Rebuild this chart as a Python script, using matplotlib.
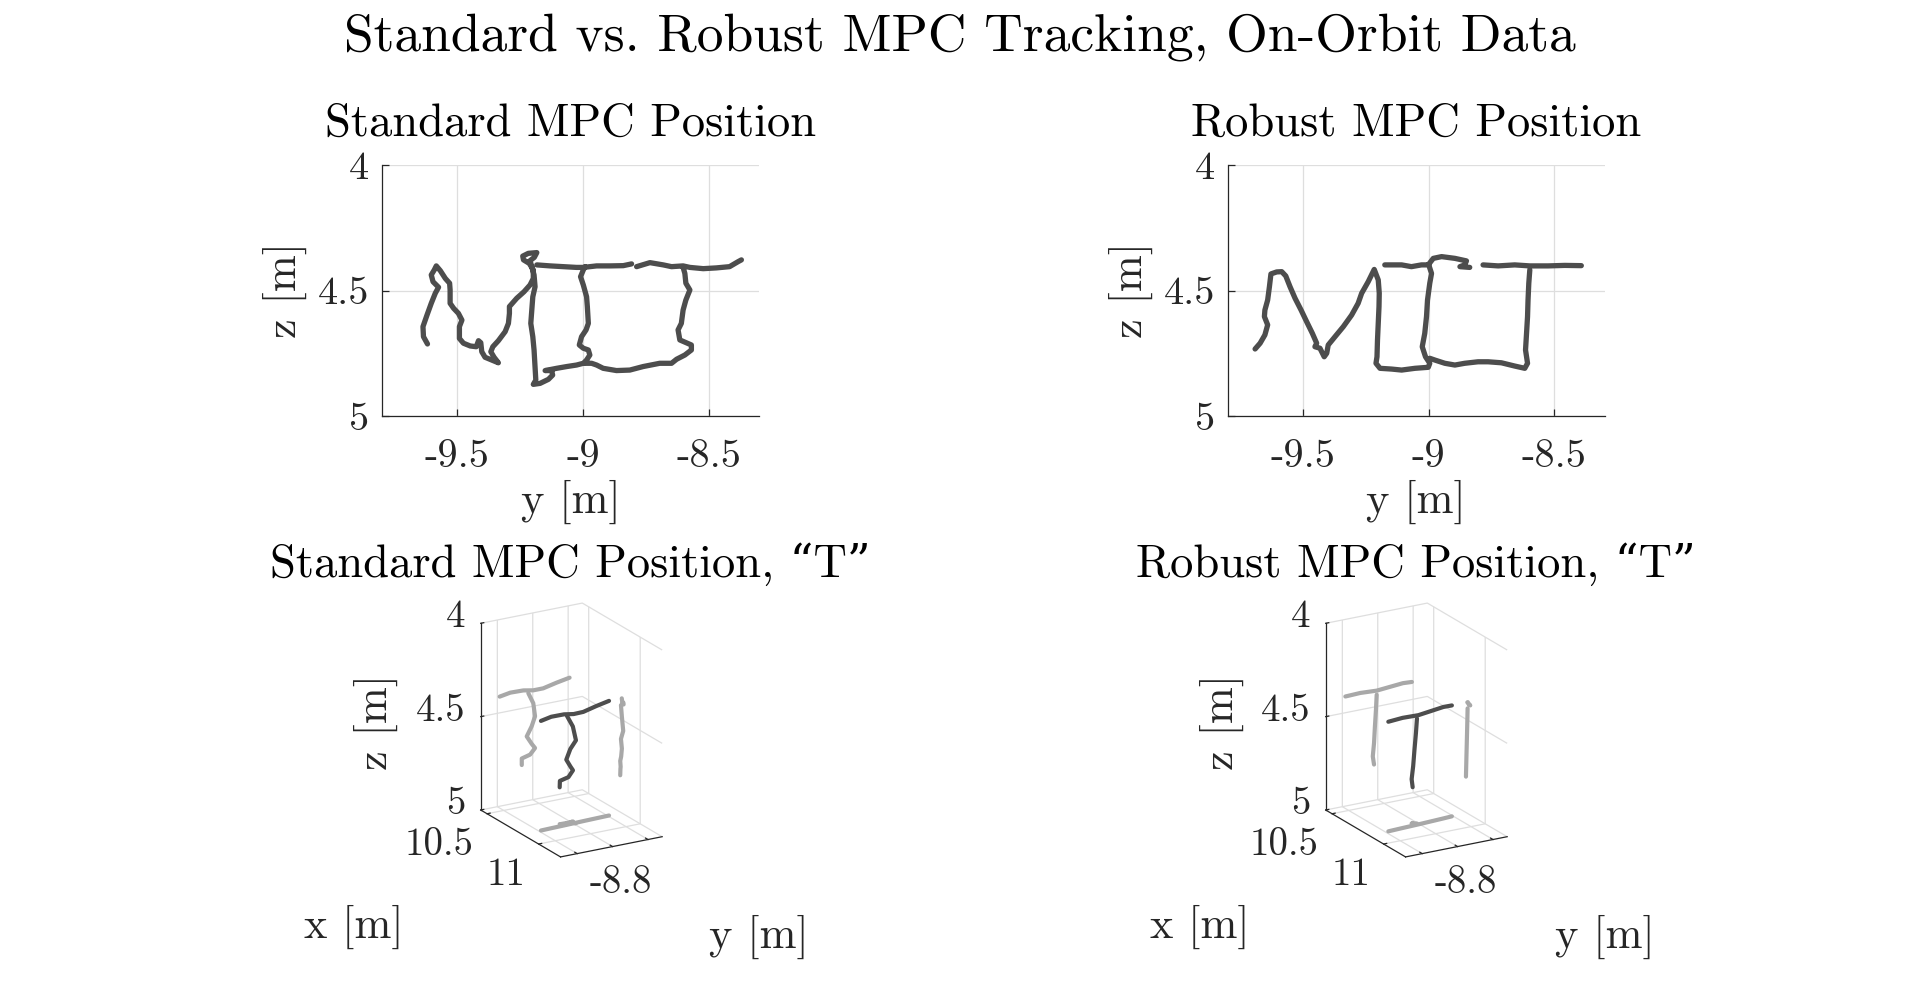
import numpy as np
import matplotlib
matplotlib.use('Agg')
import matplotlib.pyplot as plt
from mpl_toolkits.mplot3d import proj3d

plt.rcParams['font.family'] = ['cmr10', 'DejaVu Serif']
plt.rcParams['axes.unicode_minus'] = False
plt.rcParams['mathtext.fontset'] = 'cm'

# ---------------- data: top-down (y, z) trajectories ----------------
std_m_y = [-9.619, -9.635, -9.637, -9.621, -9.604, -9.588, -9.575, -9.597, -9.604, -9.592,
           -9.584, -9.568, -9.548, -9.531, -9.529, -9.529, -9.515, -9.496, -9.482, -9.492,
           -9.492, -9.476, -9.449, -9.425, -9.416, -9.407, -9.403, -9.390, -9.363, -9.337,
           -9.354, -9.367, -9.359, -9.337, -9.310, -9.297, -9.293, -9.293, -9.264, -9.235,
           -9.211, -9.198, -9.198, -9.214, -9.237, -9.240, -9.218, -9.184, -9.194, -9.211,
           -9.204, -9.195, -9.191, -9.200, -9.204, -9.208, -9.200, -9.195, -9.191, -9.188,
           -9.198, -9.171, -9.138, -9.121, -9.125, -9.151, -9.105, -9.065, -9.026, -8.999,
           -8.986, -8.973, -8.979, -8.999, -9.015, -9.006, -8.988, -8.979, -8.983, -8.986,
           -8.999, -9.010, -8.999, -8.992]
std_m_z = [4.713, 4.684, 4.644, 4.598, 4.551, 4.511, 4.487, 4.465, 4.438, 4.418,
           4.402, 4.421, 4.452, 4.471, 4.498, 4.551, 4.571, 4.591, 4.618, 4.644,
           4.691, 4.710, 4.721, 4.724, 4.700, 4.708, 4.744, 4.766, 4.777, 4.788,
           4.766, 4.744, 4.724, 4.700, 4.664, 4.631, 4.591, 4.564, 4.531, 4.505,
           4.478, 4.452, 4.418, 4.392, 4.378, 4.363, 4.352, 4.349, 4.368, 4.381,
           4.405, 4.438, 4.485, 4.525, 4.578, 4.631, 4.684, 4.737, 4.803, 4.857,
           4.874, 4.870, 4.854, 4.837, 4.819, 4.819, 4.810, 4.803, 4.797, 4.790,
           4.777, 4.757, 4.737, 4.730, 4.717, 4.684, 4.657, 4.631, 4.564, 4.525,
           4.478, 4.445, 4.418, 4.405]
std_bar1_y = [-9.184, -9.131, -9.078, -9.026, -8.999, -8.946, -8.893, -8.840, -8.807]
std_bar1_z = [4.398, 4.402, 4.405, 4.408, 4.408, 4.402, 4.402, 4.401, 4.394]
std_bar2_y = [-8.787, -8.734, -8.681, -8.648, -8.602, -8.575, -8.522, -8.470, -8.417, -8.383, -8.370]
std_bar2_z = [4.405, 4.389, 4.398, 4.405, 4.402, 4.408, 4.413, 4.410, 4.405, 4.385, 4.378]
std_t_y = [-8.602, -8.595, -8.591, -8.575, -8.591, -8.602, -8.609, -8.622, -8.615, -8.569, -8.569,
           -8.595, -8.628, -8.648, -8.695, -8.761, -8.814, -8.867, -8.920, -8.946, -8.966, -8.992]
std_t_z = [4.408, 4.432, 4.471, 4.498, 4.538, 4.578, 4.631, 4.657, 4.697, 4.717, 4.737,
           4.757, 4.774, 4.790, 4.790, 4.803, 4.817, 4.819, 4.810, 4.797, 4.790, 4.790]

rob_m_y = [-9.691, -9.671, -9.652, -9.641, -9.654, -9.652, -9.641, -9.634, -9.628, -9.605,
           -9.585, -9.569, -9.552, -9.532, -9.508, -9.486, -9.463, -9.446, -9.453, -9.433,
           -9.416, -9.406, -9.400, -9.373, -9.340, -9.307, -9.281, -9.267, -9.241, -9.217,
           -9.201, -9.197, -9.198, -9.201, -9.204, -9.206, -9.210, -9.194, -9.148, -9.108,
           -9.055, -9.002, -8.996, -9.013, -9.026, -9.016, -9.009, -9.005, -8.996, -8.989,
           -9.000, -9.029, -9.069, -9.108, -9.175]
rob_m_z = [4.733, 4.710, 4.677, 4.637, 4.604, 4.578, 4.538, 4.485, 4.434, 4.426,
           4.425, 4.442, 4.485, 4.531, 4.578, 4.624, 4.671, 4.710, 4.724, 4.730,
           4.764, 4.750, 4.717, 4.684, 4.644, 4.598, 4.551, 4.511, 4.465, 4.416,
           4.458, 4.511, 4.564, 4.631, 4.697, 4.764, 4.790, 4.810, 4.813, 4.817,
           4.810, 4.806, 4.790, 4.764, 4.724, 4.671, 4.604, 4.538, 4.471, 4.432,
           4.398, 4.398, 4.405, 4.398, 4.398]
rob_bar1_y = [-9.002, -8.982, -8.949, -8.896, -8.850, -8.857, -8.876, -8.837]
rob_bar1_z = [4.398, 4.372, 4.365, 4.372, 4.382, 4.398, 4.405, 4.408]
rob_bar2_y = [-8.784, -8.724, -8.658, -8.598, -8.525, -8.459, -8.393]
rob_bar2_z = [4.398, 4.402, 4.398, 4.402, 4.402, 4.400, 4.401]
rob_t_y = [-8.598, -8.602, -8.605, -8.607, -8.611, -8.615, -8.607, -8.618, -8.658,
           -8.711, -8.764, -8.804, -8.857, -8.896, -8.936, -8.976, -8.996]
rob_t_z = [4.418, 4.471, 4.538, 4.604, 4.671, 4.737, 4.790, 4.810, 4.801,
           4.788, 4.784, 4.784, 4.790, 4.797, 4.790, 4.777, 4.770]

# ---------------- data: 3-D "T" (x, y, z) ----------------
std3_bar_x = [10.839, 10.836, 10.833, 10.830, 10.827, 10.824, 10.821]
std3_bar_y = [-8.787, -8.727, -8.653, -8.597, -8.541, -8.466, -8.392]
std3_bar_z = [4.413, 4.403, 4.405, 4.415, 4.415, 4.399, 4.386]
std3_stem_x = [10.813, 10.822, 10.835, 10.813, 10.822, 10.815, 10.806, 10.810, 10.808, 10.806]
std3_stem_y = [-8.625, -8.597, -8.587, -8.606, -8.634, -8.606, -8.587, -8.615, -8.662, -8.662]
std3_stem_z = [4.425, 4.484, 4.556, 4.606, 4.655, 4.700, 4.726, 4.756, 4.768, 4.803]

rob3_bar_x = [10.855, 10.849, 10.843, 10.837, 10.831, 10.826]
rob3_bar_y = [-8.783, -8.699, -8.606, -8.532, -8.458, -8.407]
rob3_bar_z = [4.413, 4.410, 4.415, 4.409, 4.403, 4.406]
rob3_stem_x = [10.829, 10.826, 10.822, 10.818, 10.815, 10.813]
rob3_stem_y = [-8.606, -8.610, -8.616, -8.621, -8.628, -8.621]
rob3_stem_z = [4.437, 4.515, 4.605, 4.693, 4.763, 4.808]

# ---------------- ticks / limits ----------------
ylim2d = (-9.8, -8.3)
zlim = (5.0, 4.0)
yticks2d = [-9.5, -9.0, -8.5]
yticklabels2d = ['-9.5', '-9', '-8.5']
zticks = [4.0, 4.5, 5.0]
zticklabels = ['4', '4.5', '5']
xlim3d = (10.438, 11.213)
ylim3d = (-8.894, -8.320)
xticks3d = [10.5, 11.0]
xticklabels3d = ['10.5', '11']
yticks3d = [-8.8, -8.6, -8.4]
yticklabels3d = ['-8.8', '', '']

titles_top = ['Standard MPC Position', 'Robust MPC Position']
titles_bot = ['Standard MPC Position, \u201cT\u201d', 'Robust MPC Position, \u201cT\u201d']
suptitle = 'Standard vs. Robust MPC Tracking, On-Orbit Data'

DARK = '#4d4d4d'
LIGHT = '#a8a8a8'
GRID = '#dedede'
AXC = '#262626'
W, H = 1920, 1001
TICK_FS = 29
TICK3_FS = 28
LAB_FS = 32
TITLE_FS = 33.5
SUP_FS = 38.5

fig = plt.figure(figsize=(W / 100, H / 100), dpi=100, facecolor='white')


def join(*pairs):
    ys, zs = [], []
    for y, z in pairs:
        ys += list(y) + [np.nan]
        zs += list(z) + [np.nan]
    return np.array(ys[:-1]), np.array(zs[:-1])


series2d = [
    join((std_m_y, std_m_z), (std_bar1_y, std_bar1_z), (std_bar2_y, std_bar2_z), (std_t_y, std_t_z)),
    join((rob_m_y, rob_m_z), (rob_bar1_y, rob_bar1_z), (rob_bar2_y, rob_bar2_z), (rob_t_y, rob_t_z)),
]

col_left = [382, 1227.7]
for i, (yy, zz) in enumerate(series2d):
    ax = fig.add_axes([col_left[i] / W, (H - 416) / H, 377 / W, 251 / H])
    ax.plot(yy, zz, color=DARK, lw=3.8, solid_capstyle='round', solid_joinstyle='round')
    ax.set_xlim(*ylim2d)
    ax.set_ylim(*zlim)
    ax.set_xticks(yticks2d, yticklabels2d)
    ax.set_yticks(zticks, zticklabels)
    ax.grid(True, color=GRID, lw=0.9)
    ax.set_axisbelow(True)
    for s in ('top', 'right'):
        ax.spines[s].set_visible(False)
    for s in ('left', 'bottom'):
        ax.spines[s].set_color(AXC)
        ax.spines[s].set_linewidth(0.9)
    ax.tick_params(direction='in', length=5, width=0.9, colors=AXC, labelsize=TICK_FS)
    ax.tick_params(axis='x', pad=17)
    ax.tick_params(axis='y', pad=9)
    ax.set_xlabel('y [m]', fontsize=LAB_FS, color=AXC)
    ax.xaxis.set_label_coords(0.5, (416 - 502) / 251)
    ax.xaxis.label.set_va('center')
    ax.set_ylabel('z [m]', fontsize=LAB_FS, color=AXC)
    ax.yaxis.set_label_coords((285 - 382) / 377, 0.5)
    ax.yaxis.label.set_va('center')
    ax.set_title(titles_top[i], fontsize=TITLE_FS, y=(416 - 123.7) / 251, va='center', pad=0)

fig.text(0.5, 1 - 37 / H, suptitle, fontsize=SUP_FS, ha='center', va='center')

# ---------------- 3-D axes ----------------
box_aspect = (xlim3d[1] - xlim3d[0], ylim3d[1] - ylim3d[0], 0.97 * abs(zlim[0] - zlim[1]))
xr = xlim3d[1] - xlim3d[0]
yr = ylim3d[1] - ylim3d[0]


def px3(ax, x, y, z):
    xs, ys, _ = proj3d.proj_transform(np.atleast_1d(np.asarray(x, float)),
                                      np.atleast_1d(np.asarray(y, float)),
                                      np.atleast_1d(np.asarray(z, float)), ax.M)
    return ax.transData.transform(np.column_stack([xs, ys]))


sets3d = [
    (std3_bar_x, std3_bar_y, std3_bar_z, std3_stem_x, std3_stem_y, std3_stem_z),
    (rob3_bar_x, rob3_bar_y, rob3_bar_z, rob3_stem_x, rob3_stem_y, rob3_stem_z),
]
A_targets = [(480.7, H - 810.0), (1325.7, H - 810.0)]
ZLEN = 810.0 - 623.3
axes3d = []
for i, (bx, by, bz, sx, sy, sz) in enumerate(sets3d):
    cx = 570 + 845.5 * i
    ax = fig.add_axes([(cx - 190) / W, (H - 900) / H, 380 / W, 360 / H],
                      projection='3d', proj_type='ortho', computed_zorder=False)
    ax.set_facecolor((1, 1, 1, 0))
    ax.view_init(elev=20, azim=-30.2)
    ax.set_box_aspect(box_aspect)
    # axis lines drawn along the MATLAB-style edges
    ax.plot([xlim3d[0]] * 2, [ylim3d[0]] * 2, [zlim[1], zlim[0]], color=AXC, lw=0.9)
    ax.plot([xlim3d[0], xlim3d[1]], [ylim3d[0]] * 2, [zlim[0]] * 2, color=AXC, lw=0.9)
    ax.plot([xlim3d[1]] * 2, [ylim3d[0], ylim3d[1]], [zlim[0]] * 2, color=AXC, lw=0.9)
    for v in zticks:
        ax.plot([xlim3d[0]] * 2, [ylim3d[0], ylim3d[0] + 0.03 * yr], [v, v], color=AXC, lw=0.9)
    for v in xticks3d:
        ax.plot([v, v], [ylim3d[0], ylim3d[0] + 0.03 * yr], [zlim[0]] * 2, color=AXC, lw=0.9)
    for v in yticks3d:
        ax.plot([xlim3d[1], xlim3d[1] - 0.03 * xr], [v, v], [zlim[0]] * 2, color=AXC, lw=0.9)
    for strk in ((bx, by, bz), (sx, sy, sz)):
        x, y, z = (np.asarray(v, float) for v in strk)
        ax.plot(np.full_like(y, xlim3d[0]), y, z, color=LIGHT, lw=3.0, solid_capstyle='round')
        ax.plot(x, np.full_like(x, ylim3d[1]), z, color=LIGHT, lw=3.0, solid_capstyle='round')
        ax.plot(x, y, np.full_like(z, zlim[0]), color=LIGHT, lw=3.0, solid_capstyle='round')
    for strk in ((bx, by, bz), (sx, sy, sz)):
        ax.plot(*strk, color=DARK, lw=3.0, solid_capstyle='round')
    ax.set_xticks(xticks3d, ['' for _ in xticks3d])
    ax.set_yticks(yticks3d, ['' for _ in yticks3d])
    ax.set_zticks(zticks, ['' for _ in zticks])
    ax.set_xlim(*xlim3d)
    ax.set_ylim(*ylim3d)
    ax.set_zlim(*zlim)
    for axis in (ax.xaxis, ax.yaxis, ax.zaxis):
        axis.set_pane_color((1, 1, 1, 0))
        axis.pane.set_edgecolor((1, 1, 1, 0))
        axis._axinfo['grid'].update(color=GRID, linewidth=0.9)
        axis._axinfo['tick'].update(inward_factor=0.0, outward_factor=0.0)
        axis.line.set_visible(False)
    axes3d.append(ax)

# fit the 3-D boxes to their places
zooms = [1.0, 1.0]
for it in range(6):
    fig.canvas.draw()
    for i, ax in enumerate(axes3d):
        a = px3(ax, xlim3d[0], ylim3d[0], zlim[0])[0]
        t = px3(ax, xlim3d[0], ylim3d[0], zlim[1])[0]
        zlen = t[1] - a[1]
        zooms[i] *= ZLEN / zlen
        ax.set_box_aspect(box_aspect, zoom=zooms[i])
        pos = ax.get_position()
        dx = (A_targets[i][0] - a[0]) / W
        dy = (A_targets[i][1] - a[1]) / H
        ax.set_position([pos.x0 + dx, pos.y0 + dy, pos.width, pos.height])

fig.canvas.draw()
for i, ax in enumerate(axes3d):
    for v, lab in zip(zticks, zticklabels):
        p = px3(ax, xlim3d[0], ylim3d[0], v)[0]
        fig.text((p[0] - 15) / W, (p[1] + 6) / H, lab, ha='right', va='center', fontsize=TICK3_FS, color=AXC)
    for v, lab in zip(xticks3d, xticklabels3d):
        p = px3(ax, v, ylim3d[0], zlim[0])[0]
        fig.text((p[0] - 13) / W, (p[1] - 31) / H, lab, ha='right', va='center', fontsize=TICK3_FS, color=AXC)
    for v, lab in zip(yticks3d, yticklabels3d):
        if lab:
            p = px3(ax, xlim3d[1], v, zlim[0])[0]
            fig.text((p[0] + 12) / W, (p[1] - 29) / H, lab, ha='left', va='center', fontsize=TICK3_FS, color=AXC)
    off = 845.5 * i
    fig.text((354 + off) / W, 1 - 927 / H, 'x [m]', ha='center', va='center', fontsize=LAB_FS, color=AXC)
    fig.text((759 + off) / W, 1 - 937 / H, 'y [m]', ha='center', va='center', fontsize=LAB_FS, color=AXC)
    fig.text((376 + off) / W, 1 - 722 / H, 'z [m]', ha='center', va='center', rotation=90,
             fontsize=LAB_FS, color=AXC)
    fig.text((570.6 + off) / W, 1 - 564.5 / H, titles_bot[i], ha='center', va='center', fontsize=TITLE_FS)

fig.savefig('out.png', dpi=100, facecolor='white')
